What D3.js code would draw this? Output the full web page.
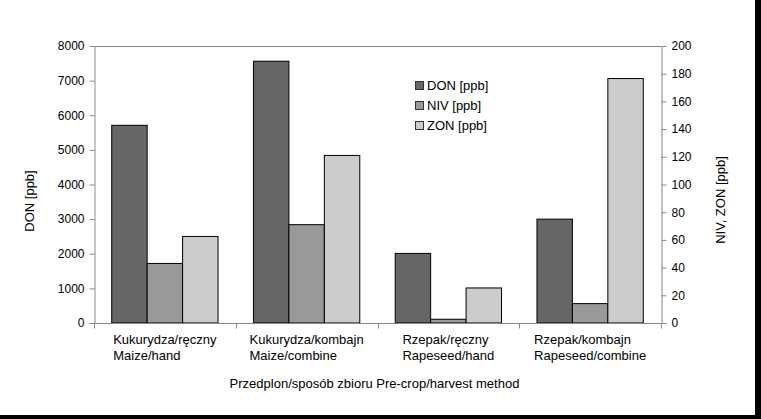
<!DOCTYPE html>
<html>
<head>
<meta charset="utf-8">
<script src="https://cdn.jsdelivr.net/npm/d3@7"></script>
<style>
html,body{margin:0;padding:0;background:#fff;}
svg{display:block;font-family:"Liberation Sans",Arial,sans-serif;}
</style>
</head>
<body>
<svg id="chart" width="761" height="419"></svg>
<script>
const categoriesPL = ["Kukurydza/ręczny", "Kukurydza/kombajn", "Rzepak/ręczny", "Rzepak/kombajn"];
const categoriesEN = ["Maize/hand", "Maize/combine", "Rapeseed/hand", "Rapeseed/combine"];
const seriesNames = ["DON [ppb]", "NIV [ppb]", "ZON [ppb]"];
const donValues = [5710, 7560, 2010, 3000];   // left axis
const nivValues = [43, 71, 2.7, 14];          // right axis
const zonValues = [62.5, 121, 25.3, 176.5];   // right axis
const leftTicks = [0, 1000, 2000, 3000, 4000, 5000, 6000, 7000, 8000];
const rightTicks = [0, 20, 40, 60, 80, 100, 120, 140, 160, 180, 200];
const colors = ["#666666", "#999999", "#cccccc"];

const svg = d3.select("#chart");
const W = 761, H = 419;
const m = {left: 94, right: 661, top: 46, bottom: 323};
const axisColor = "#888888";

svg.append("rect").attr("width", W).attr("height", H).attr("fill", "#fff");

const x0 = d3.scaleBand().domain(d3.range(categoriesPL.length)).range([m.left, m.right]).paddingInner(0).paddingOuter(0);
const x1 = d3.scaleBand().domain(d3.range(3)).range([0, x0.bandwidth()]).paddingOuter(0.5).paddingInner(0);
const yL = d3.scaleLinear().domain([0, 8000]).range([m.bottom, m.top]);
const yR = d3.scaleLinear().domain([0, 200]).range([m.bottom, m.top]);

// top frame line
svg.append("line").attr("x1", m.left).attr("x2", m.right).attr("y1", m.top + 0.5).attr("y2", m.top + 0.5)
  .attr("stroke", axisColor).attr("stroke-width", 1);

// bars
const rows = categoriesPL.map((c, i) => [
  {s: 0, v: donValues[i], y: yL},
  {s: 1, v: nivValues[i], y: yR},
  {s: 2, v: zonValues[i], y: yR}
]);
const g = svg.append("g");
rows.forEach((r, i) => {
  g.selectAll(null).data(r).enter().append("rect")
    .attr("x", d => x0(i) + x1(d.s))
    .attr("width", x1.bandwidth())
    .attr("y", d => d.y(d.v))
    .attr("height", d => m.bottom - d.y(d.v))
    .attr("fill", d => colors[d.s])
    .attr("stroke", "#000").attr("stroke-width", 1);
});

// axes
function styleAxis(sel) {
  sel.selectAll(".domain").attr("stroke", axisColor);
  sel.selectAll(".tick line").attr("stroke", axisColor);
  sel.selectAll(".tick text").attr("fill", "#000").attr("font-size", 12)
    .attr("font-family", "Liberation Sans, Arial, sans-serif");
}
const axL = svg.append("g").attr("transform", `translate(${m.left + 0.5},0)`)
  .call(d3.axisLeft(yL).tickValues(leftTicks).tickSize(5).tickSizeOuter(0).tickPadding(5).tickFormat(d3.format("d")));
styleAxis(axL);
const axR = svg.append("g").attr("transform", `translate(${m.right + 0.5},0)`)
  .call(d3.axisRight(yR).tickValues(rightTicks).tickSize(5).tickSizeOuter(0).tickPadding(5).tickFormat(d3.format("d")));
styleAxis(axR);

// bottom axis: ticks at category boundaries
const xb = svg.append("g").attr("transform", `translate(0,${m.bottom + 0.5})`);
xb.append("line").attr("x1", m.left).attr("x2", m.right).attr("stroke", axisColor);
const bounds = d3.range(categoriesPL.length + 1).map(i => i < categoriesPL.length ? x0(i) : m.right);
xb.selectAll(null).data(bounds).enter().append("line")
  .attr("x1", d => Math.round(d) + 0.5).attr("x2", d => Math.round(d) + 0.5)
  .attr("y1", 0).attr("y2", 5).attr("stroke", axisColor);

// category labels: two lines, left-aligned block centered in band
categoriesPL.forEach((c, i) => {
  const t = svg.append("text").attr("font-size", 13).attr("fill", "#000");
  const l1 = t.append("tspan").attr("y", 344).text(c);
  const l2 = t.append("tspan").attr("y", 360).text(categoriesEN[i]);
  const w = Math.max(l1.node().getComputedTextLength(), l2.node().getComputedTextLength());
  const xs = x0(i) + x0.bandwidth() / 2 - w / 2;
  l1.attr("x", xs); l2.attr("x", xs);
});

// axis titles
svg.append("text").attr("x", (m.left + m.right) / 2 - 3).attr("y", 388).attr("text-anchor", "middle")
  .attr("font-size", 13).text("Przedplon/sposób zbioru Pre-crop/harvest method");
svg.append("text").attr("transform", "translate(34,201) rotate(-90)").attr("text-anchor", "middle")
  .attr("font-size", 13).text("DON [ppb]");
svg.append("text").attr("transform", "translate(725,200) rotate(-90)").attr("text-anchor", "middle")
  .attr("font-size", 13).text("NIV, ZON [ppb]");

// legend
const lg = svg.append("g").attr("transform", "translate(415,81)");
seriesNames.forEach((n, i) => {
  lg.append("rect").attr("x", 0.5).attr("y", i * 20 + 0.5).attr("width", 8).attr("height", 8)
    .attr("fill", colors[i]).attr("stroke", "#333").attr("stroke-width", 1);
  lg.append("text").attr("x", 12).attr("y", i * 20 + 9).attr("font-size", 13).text(n);
});

// black frame strips (right and bottom)
svg.append("rect").attr("x", 755).attr("y", 0).attr("width", 6).attr("height", H).attr("fill", "#000");
svg.append("rect").attr("x", 0).attr("y", 415).attr("width", W).attr("height", 4).attr("fill", "#000");
</script>
</body>
</html>
